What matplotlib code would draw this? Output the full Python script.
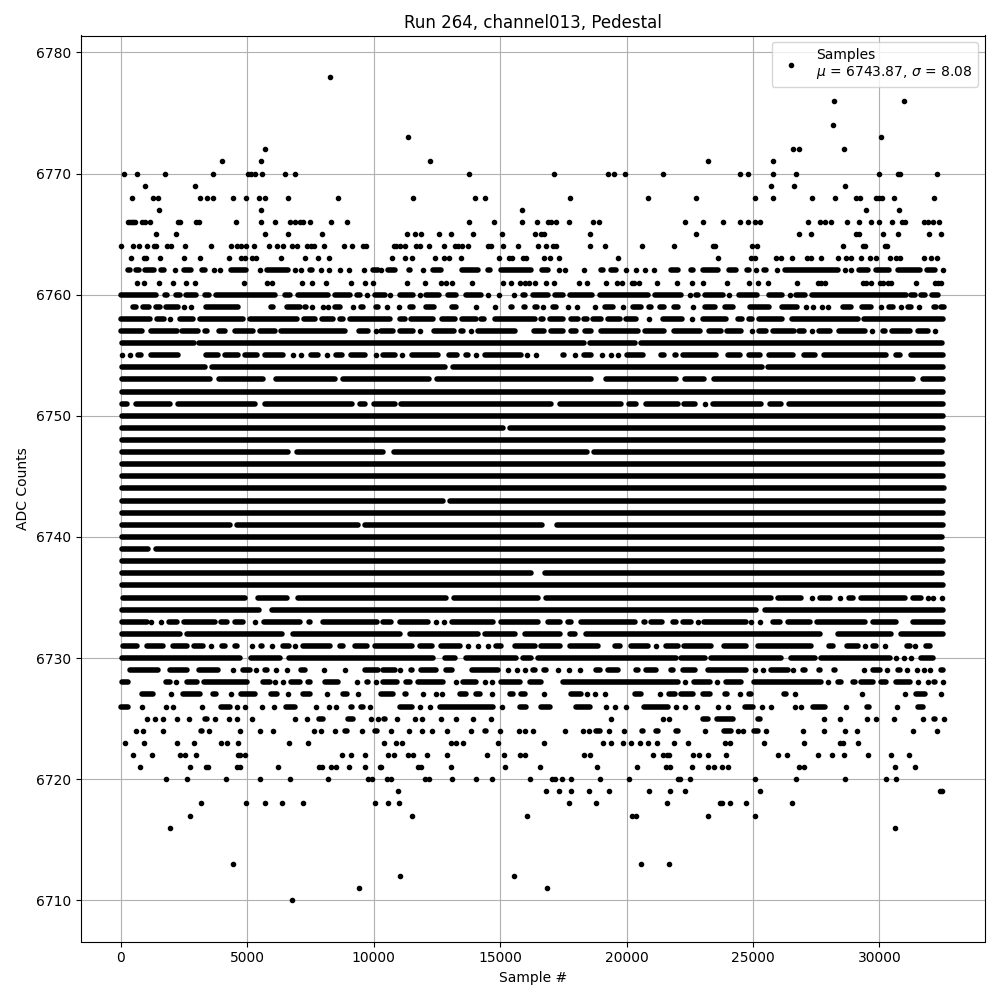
#!/usr/bin/env python3

"""
Plot pedestal samples for one ADC channel
"""

import matplotlib
matplotlib.use("Agg")
import matplotlib.pyplot as plt


TITLE = "Run 264, channel013, Pedestal"
LEGEND_LABEL = "Samples\n$\\mu$ = 6743.87, $\\sigma$ = 8.08"
X_TICKS = [0, 5000, 10000, 15000, 20000, 25000, 30000]
Y_TICKS = [6710, 6720, 6730, 6740, 6750, 6760, 6770, 6780]

# rare ADC codes: sample numbers, one list per code
rare_codes = {
    6778: [8277],
    6776: [28197, 30965],
    6774: [28158],
    6773: [11357, 30056],
    6772: [5707, 26576, 26813, 28593],
    6771: [4007, 5549, 12227, 23215, 25785],
    6770: [132, 646, 1753, 3651, 5035, 5140, 5311, 5588, 6498, 6893, 13769, 17130, 19265, 19503, 19938, 21440,
           24481, 24797, 25785, 26695, 29977, 30728, 30794, 32270],
    6769: [962, 2939, 25706, 26616, 28632],
    6768: [448, 1278, 1476, 3137, 3414, 3651, 4442, 4956, 5470, 5707, 6616, 8593, 11555, 14006, 14402, 17763,
           20847, 22741, 25074, 25785, 27327, 28237, 29080, 29212, 29845, 29977, 30108, 30570, 32151],
    6767: [1516, 5549, 15865, 29463, 30767],
    6766: [290, 356, 422, 488, 580, 844, 975, 1173, 2267, 2359, 2966, 3097, 4560, 5549, 6102, 6682, 6880, 7078,
           7210, 7473, 8317, 8950, 13769, 14758, 15865, 16458, 16893, 17025, 17222, 17723, 18672, 18909, 22306,
           23018, 23808, 24481, 24797, 25074, 25258, 27169, 27631, 27828, 28092, 28711, 29186, 29660, 29977,
           30491, 30900, 31031, 31782, 31914, 32112, 32349],
    6765: [1397, 2188, 5707, 6616, 7961, 11318, 11634, 11871, 12583, 13058, 13927, 15074, 16379, 16629, 16722,
           18554, 22741, 26813, 27288, 29080, 29186, 30135, 30728, 31954, 32428],
    6764: [13, 488, 699, 1041, 1305, 1410, 1832, 2003, 2544, 3572, 4363, 4600, 4771, 4943, 5272, 5865, 6181, 6419,
           6774, 6972, 7368, 7539, 7631, 8040, 8830, 9147, 9582, 9714, 10790, 10896, 11028, 11239, 11660, 11819,
           12188, 12781, 13203, 13334, 13506, 13730, 14520, 14652, 15114, 15707, 16498, 16814, 17091, 17222,
           18554, 19147, 20623, 21875, 23413, 23479, 24968, 25166, 28553, 29344, 29436, 30240, 30306],
    6763: [409, 909, 1015, 1555, 2504, 3137, 4283, 4771, 4930, 5193, 5364, 6339, 7289, 7803, 8238, 10725, 11239,
           11515, 12425, 12781, 12965, 13453, 14955, 15351, 15456, 15905, 16036, 16735, 16972, 17328, 19661, 23611,
           24929, 25061, 25917, 26089, 26537, 27130, 27301, 27683, 28356, 28685, 28883, 29265, 29608, 29871, 30412,
           30662, 30820, 31756, 32046, 32270],
    6761: [646, 923, 1516, 2069, 2583, 2939, 4877, 5773, 5984, 7170, 7565, 8119, 9108, 9661, 9977, 11318, 12030,
           12662, 12860, 13097, 13888, 15114, 15430, 15773, 15970, 16128, 16379, 16814, 17130, 18119, 18435, 19186,
           19621, 19819, 20214, 20293, 20491, 21203, 21993, 22583, 23018, 23967, 24836, 25192, 25588, 26734, 27565,
           27696, 27828, 29344, 29476, 29660, 30003, 30135, 30332, 30464, 31440, 32178, 32309, 32441],
    6723: [171, 923, 2227, 2900, 3967, 4204, 4639, 6656, 7407, 10408, 10883, 11120, 13058, 13255, 13532, 14916,
           16735, 19068, 19384, 19859, 20188, 20517, 20847, 21203, 21875, 22424, 23900, 24072, 25430, 27011, 28421,
           28553, 29146],
    6722: [488, 1239, 2333, 2557, 2979, 4639, 4705, 4916, 8751, 9107, 9661, 10553, 10804, 11357, 11555, 12109,
           12899, 14481, 15153, 15772, 15970, 18316, 18554, 21045, 21440, 21598, 21677, 22622, 22859, 23215, 23927,
           25983, 26339, 27565, 28118, 28593, 29542, 30451, 31163],
    6721: [764, 2741, 3361, 3453, 4600, 4705, 6221, 7842, 7974, 8330, 8527, 9028, 9661, 10240, 10303, 11753, 11885,
           13058, 15193, 16577, 18830, 20412, 21546, 21730, 22583, 23215, 23453, 23782, 24006, 26813, 27011, 30609,
           31400],
    6720: [1792, 2623, 4165, 5509, 6695, 8198, 9780, 9951, 10527, 10698, 12016, 12188, 13097, 14046, 14679, 16181,
           17051, 17156, 17446, 17802, 18949, 20096, 22033, 22095, 22504, 25074, 26695, 28632, 30253, 30662],
    6719: [10962, 16814, 17328, 17802, 18514, 19305, 20887, 21717, 22306, 25271, 32402, 32481],
    6718: [3176, 4956, 5707, 6379, 7210, 10056, 10567, 11001, 17723, 18791, 21598, 23677, 23782, 24085, 24718, 26537],
    6717: [2741, 11515, 16063, 20214, 20359, 23215, 25074],
    6716: [1951, 30609],
    6713: [4442, 20570, 21677],
    6712: [11041, 15549],
    6711: [9424, 16853],
    6710: [6775],
}

# busy ADC codes: a plain number is one sample, a pair is a run of samples too
# close together to tell apart in the picture
busy_codes = {
    6762: [(224, 422), (554, 791), (909, 1384), (1542, 1753), 2161, (2438, 2834), (3150, 3387), 3677, 3941,
           (4310, 5008), 5496, (5733, 6682), 6893, 7130, (7407, 7631), 7934, 8251, 8672, 9015, 9621, (9911, 10240),
           10300, (10500, 10896), (11318, 11515), 11950, (12280, 12741), (13427, 14191), (14455, 14652),
           (14955, 16300), (16590, 16959), 17328, 17565, 18316, (18936, 19134), (19331, 19661), 19964, 20372, 20715,
           21084, (21704, 22100), (22490, 22688), (22952, 23677), (24006, 24402), (24691, 24889), 25113,
           (25364, 25588), 25944, (26207, 28421), 28619, 28883, (29146, 29608), (29805, 30425), (30662, 31650),
           (31822, 32244), 32507],
    6760: [(26, 1437), (1674, 1872), (2135, 2399), (2531, 3018), (3282, 3545), (3717, 6155), (6419, 6748),
           (6946, 8264), (8396, 9121), (9292, 9516), 9740, (10003, 10500), 10646, (10962, 11621), 11845,
           (12016, 12636), (12873, 13334), (13598, 14323), 14520, 14955, 15535, (15838, 16036), (16234, 16959),
           (17117, 17565), (17710, 18698), (18870, 20913), (21071, 22200), 22490, (22688, 22886), (23044, 23874),
           24046, (24402, 25232), (25588, 26207), 26444, (26642, 27103), (27261, 31123), (31189, 31479),
           (31584, 31874), (32006, 32375)],
    6759: [(413, 677), (817, 1173), (1344, 1608), (1740, 2333), 2504, 2794, (3321, 4679), (5892, 6089), (6524, 7144),
           (7236, 7368), 7565, 8000, 8198, (8422, 8725), 9187, (9424, 9648), (10043, 10240), 10527, 11001,
           (11357, 11621), (11990, 12451), (13031, 13334), 14059, (14257, 14402), 14797, (15351, 15535),
           (15878, 16063), (16300, 16537), 16695, (17025, 17288), 17684, 18039, 18751, (19107, 19529), 19859,
           (20214, 20649), (20847, 21045), (21282, 21546), (21809, 22095), 22622, (23044, 23571), (23848, 24270),
           (24836, 25680), (26089, 26813), 27103, 27367, 27723, 27960, (28514, 28949), (29238, 29713), 30043,
           (30332, 30596), 30860, (31057, 31321), 31558, (32112, 32309), (32375, 32560)],
    6758: [(26, 1213), (1384, 1779), 1964, (2267, 2926), (3058, 4903), (5035, 7012), (7183, 7737), (7895, 8462),
           (8593, 8857), (8989, 10700), (10962, 11291), (11397, 12412), (12649, 13268), (13427, 14125),
           (14191, 14428), (14718, 16432), (16537, 16761), (16893, 17552), (17749, 18145), (18237, 18514),
           (18606, 19068), (19200, 19792), (19924, 20452), 20886, (21374, 22253), 22583, (22952, 24006),
           (24362, 24626), (24797, 25021), (25192, 26207), (26484, 29212), (29318, 32520)],
    6757: [(26, 883), (1147, 2267), (2359, 3124), (3255, 3453), (3809, 4178), (4442, 5298), (5430, 6155), (6287, 8923),
           (9345, 9819), 10082, (10237, 10830), (10962, 11621), 11845, (12306, 13242), (13400, 13598), 13835,
           (14059, 15641), (16274, 16801), (16959, 17552), (17749, 18079), (18277, 18672), (18936, 20517),
           (20676, 21546), (21835, 22952), (23215, 23782), (23914, 24599), 24968, (25192, 25588), (25720, 26681),
           (26774, 27077), 27327, (27565, 28092), (28356, 29476), 29713, (30069, 30267), (30425, 31255),
           (31453, 31980), 32178],
    6756: [(40, 2940), (3050, 18360), (18480, 20400), (20510, 32480)],
    6755: [53, 343, (620, 857), (1120, 2333), (2728, 2834), (3321, 3914), (4046, 4705), (4863, 5430), (5628, 6485), 6814,
           7130, (7473, 7868), 8159, (8462, 8791), (9055, 9714), 10109, (10303, 10896), 11120, (11450, 12610),
           (12899, 13374), (13598, 13795), 14059, (14349, 15904), 16063, 16432, (16722, 16827), (17420, 17591), 17947,
           (18250, 18646), 19028, 19370, 19661, (19964, 20715), (21308, 21546), (21862, 22033), (22161, 23611),
           (23940, 24533), (24797, 25324), (25588, 26642), (26945, 27499), (27736, 30332), (30596, 30860),
           (31189, 32507)],
    6754: [(50, 3390), (3540, 12880), (13060, 25420), (25530, 32500)],
    6753: [(65, 3585), (3809, 5694), (6089, 8527), (8725, 12240), (12438, 18672), (19134, 22000), (22253, 23123),
           (23387, 31387), (31650, 32507)],
    6752: [(40, 32530)],
    6751: [(65, 316), (554, 2003), (2201, 5364), (5628, 9187), (9384, 9714), (9951, 10896), (11028, 17091),
           (17288, 19858), (20056, 20451), (20715, 22100), (22227, 22780), 23084, (23347, 25390), (25627, 26180),
           (26378, 32507)],
    6750: [(40, 32530)],
    6749: [(50, 15190), (15340, 32500)],
    6748: [(40, 32530)],
    6747: [(40, 6670), (6900, 10440), (10740, 18500), (18650, 32480)],
    6746: [(50, 32520)],
    6745: [(40, 32500)],
    6744: [(40, 32540)],
    6743: [(60, 12800), (12950, 32500)],
    6742: [(40, 32530)],
    6741: [(40, 4360), (4530, 9430), (9610, 16700), (17200, 32500)],
    6740: [(40, 32480)],
    6739: [(40, 1130), (1340, 32470)],
    6738: [(40, 32500)],
    6737: [(50, 16270), (16710, 32490)],
    6736: [(40, 32530)],
    6735: [(92, 4969), (5364, 6616), (6946, 12939), (13110, 16563), (16761, 25785), (25944, 26972), 27341,
           (27604, 28092), 28421, (28751, 29015), (29212, 31057), (31255, 31716), 31914, 32112, 32480],
    6734: [(65, 5540), (5900, 25190), (25420, 32530)],
    6733: [(65, 1081), 1199, 1582, (1832, 2267), (2438, 3783), (3915, 4244), (4468, 4903), 5298, (5601, 7144),
           (7381, 7539), (7934, 10175), (10303, 10764), (10962, 12214), 12478, 12781, (13031, 14784), (14982, 16563),
           (16827, 17420), (17618, 17881), (18119, 20385), (20649, 20781), (20913, 21467), (21770, 22033),
           (22161, 22622), 22820, (23018, 24797), 24929, 25258, (25720, 26115), (26339, 27301), (27472, 29476),
           (29673, 30728), (31255, 32507)],
    6732: [(65, 2399), (2570, 6419), (6748, 11094), (11357, 14191), (14323, 15641), (15904, 17420), (17684, 18013),
           (18343, 27696), (27894, 28026), (28290, 30530), (30794, 32507)],
    6731: [(92, 685), (975, 1740), (2003, 2662), (2834, 3321), 3572, (3954, 4178), (4442, 4639), 5193, (5496, 5628),
           5984, (6353, 6709), 6880, (7144, 8330), (8593, 8857), (9187, 9780), (9977, 11555), (11753, 12346),
           (12609, 13466), 13730, 14125, 14520, (14784, 15114), (15509, 16432), (16563, 17420), (17684, 18936),
           (19463, 19793), (20127, 20913), 21176, (21506, 22100), (22227, 23413), (23808, 24797), (25153, 27367),
           (27960, 28224), (28645, 29212), 29436, (29673, 29937), 30240, (31031, 31255), 31413, (31782, 32046),
           (32349, 32441)],
    6730: [(65, 4771), (5100, 6350), (6600, 12420), (12741, 13268), (13598, 15700), (15840, 16300), (16430, 22000),
           (22095, 23150), (23280, 26180), (26444, 27499), (27630, 30464), 30662, 30952, 31255, (31584, 32178)],
    6729: [(290, 1542), (1872, 2662), (3031, 3914), 4442, (4771, 5167), 5338, (5654, 5825), 6142, 6577, (7078, 7341),
           8040, 8870, (9187, 9318), (9582, 10240), (10303, 10896), 11054, (11423, 11555), (11819, 12543),
           (12807, 13137), (13822, 14982), 15311, 15680, 15996, (16234, 16432), (16669, 16893), 17288, 17723, 18158,
           (18738, 19002), (19199, 19727), (19924, 20056), (20319, 20517), (20715, 21242), (21704, 21902),
           (22161, 22754), (23149, 24797), 25061, 25390, (25654, 26444), 26576, (26906, 27103), (27565, 27696),
           (28158, 28290), (28817, 28949), 29384, (29673, 30069), 30293, (30662, 30860), 31097, 31492, 31756, 32019,
           (32375, 32533)],
    6728: [(65, 356), (1437, 1542), (1740, 2003), 2188, (2570, 3058), (3229, 5035), (5562, 5957), 6089, 6419,
           (6682, 7144), (7341, 7539), (8000, 8659), 9345, (9687, 9845), 10109, (10303, 10962), (11225, 11489),
           (11687, 12807), 13242, (13466, 14125), 14402, 14679, (14955, 15839), (16102, 16695), (17420, 22100), 22293,
           (22596, 23347), 23584, (23874, 24599), (24995, 27762), 27960, (28290, 28553), (28883, 29080),
           (29212, 29805), (30003, 30332), (30596, 31255), 31519, 31914, (32112, 32270), 32507],
    6727: [(786, 1344), 2003, (2399, 3190), (3585, 3809), 4349, (4705, 5364), (5892, 6221), 6616, (7144, 7539), 8172,
           (8725, 8989), 9384, (9780, 9911), (10237, 10830), (11160, 11357), 11950, 12451, 12702, (12939, 13005),
           (13334, 13730), (13993, 14257), 14679, (15311, 15575), (15772, 16036), 16735, (17354, 17486),
           (17749, 18277), 18435, 18738, 19160, (20280, 20649), 21335, (21638, 21967), (22095, 22688), (22952, 23347),
           (23848, 24032), 24481, (24797, 24995), (25416, 25548), (26181, 26378), 26655, (27762, 27855), 29304, 31005,
           (31387, 31848), 32428],
    6726: [(26, 356), 843, (1107, 1213), 1792, 2056, (2399, 2531), 3216, (3914, 4376), 4600, 4916, 5575, 6050,
           (6484, 6946), 7723, 8238, 8501, (9055, 9187), (9450, 9648), 9858, (10109, 10240), (10962, 11555), 11845,
           12214, (12543, 14784), 15074, (15707, 16102), (16537, 17025), (17947, 18606), 19199, 19542, 19990,
           (20649, 21704), 21967, 22293, 22780, 23611, 24006, (24626, 25061), 25350, 25693, 26642, 26892,
           (27327, 27894), 28672, (29449, 29634), 30702, (31479, 31782)],
    6725: [(382, 514), 1041, 1358, 1674, 2227, 2702, (3255, 3453), 3743, 4283, 4600, 5193, 6893, 7368, (7763, 8066),
           (8923, 9252), 9898, 10175, (10342, 10500), 10922, 11634, 11911, 12662, 13255, 13927, 14639, (16102, 16234),
           (18237, 18343), (18567, 18672), 19384, (20676, 20781), 21440, 21677, (22556, 22688), (22952, 23281),
           (23519, 24270), (25153, 25324), 27802, 28435, 29502, 29858, 30570, 31717, (32112, 32270), 32547],
    6724: [606, 883, 1674, (2794, 2860), (3097, 3282), 3493, 4718, 5509, 6023, 7644, 7921, 8462, (8791, 8989), 9542,
           (9977, 10175), 10685, 11397, 11911, 12306, 12899, 13848, (14323, 14520), 14995, 15746, 15970, 16313, 17565,
           (17815, 17947), 18277, 18514, (18738, 19002), 19305, (19529, 19661), 19898, (20544, 20715), (21111, 21308),
           (21902, 22100), 23097, (23413, 23519), (23808, 24204), 24402, 24599, (24995, 25258), 25522, (26115, 26247),
           26972, (27235, 27367), 27802, 28632, 29107, 31321, 32270],
}

# run ends were mostly read near the outer edge of the blob
EDGE_TRIM = 60

# split into single samples and runs
sample_x = [x for level, xs in rare_codes.items() for x in xs]
sample_y = [level for level, xs in rare_codes.items() for x in xs]
run_y, run_start, run_end = [], [], []
for level, entries in busy_codes.items():
    for entry in entries:
        if isinstance(entry, tuple):
            start, end = entry
            if end - start <= 2 * EDGE_TRIM:
                start = end = (start + end) // 2
            else:
                # the ends of the long rows were already read at the dot centres
                start = start if start < 100 else start + EDGE_TRIM
                end = end if end > 32400 else end - EDGE_TRIM
            run_y.append(level)
            run_start.append(start)
            run_end.append(end)
        else:
            sample_x.append(entry)
            sample_y.append(level)


fig, ax = plt.subplots(figsize=(10, 10))

ax.plot(sample_x, sample_y, "k.", label=LEGEND_LABEL, zorder=2)
# same width as a "." marker, round ends look like the outer dots of a run
ax.hlines(run_y, run_start, run_end, colors="k", linewidth=4, capstyle="round", zorder=2)

ax.set_title(TITLE, pad=5.3)
ax.set_xlabel("Sample #")
ax.set_ylabel("ADC Counts")
ax.set_xticks(X_TICKS)
ax.set_yticks(Y_TICKS)
ax.set_xlim(-1595, 34175)
ax.set_ylim(6706.6, 6781.4)
ax.grid(True)
ax.legend(loc="upper right")

fig.subplots_adjust(left=0.0805, right=0.985, top=0.9645, bottom=0.0585)
fig.savefig("out.png", dpi=100)
